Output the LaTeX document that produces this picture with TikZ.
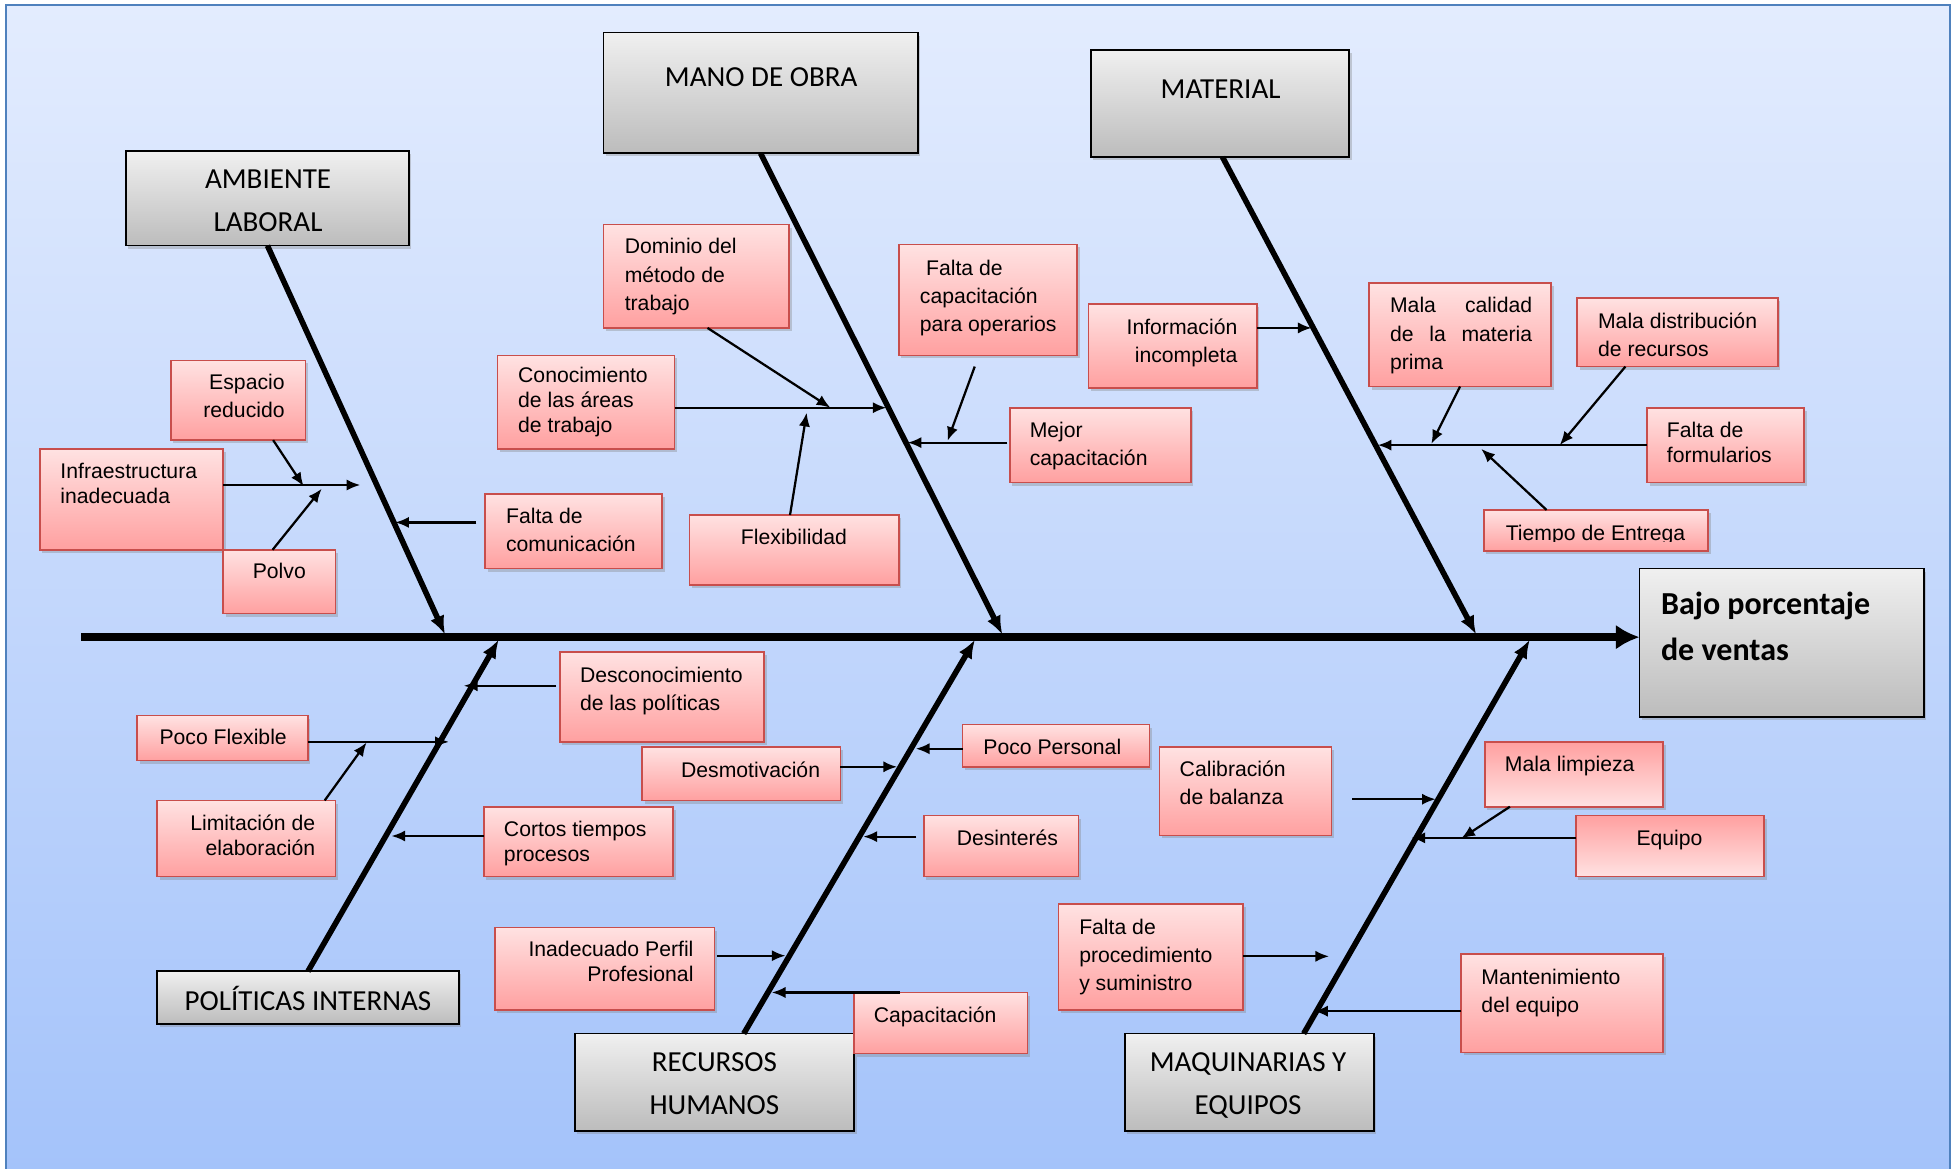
\documentclass[tikz,border=0pt]{standalone}
\usepackage{fontspec}
\setmainfont{Liberation Sans}
\newfontfamily\calib{Carlito}
\usetikzlibrary{arrows.meta,shadows,calc}
\definecolor{bgtop}{RGB}{227,236,254}
\definecolor{bgbot}{RGB}{164,195,250}
\definecolor{bgline}{RGB}{79,129,189}
\definecolor{pinktop}{RGB}{255,226,226}
\definecolor{pinkbot}{RGB}{255,160,160}
\definecolor{pinkline}{RGB}{200,78,76}
\definecolor{graytop}{RGB}{240,240,240}
\definecolor{graybot}{RGB}{188,188,188}
\newcommand\TxL[1]{\vtop{\halign{##\hfil\cr#1\crcr}}}
\newcommand\TxR[1]{\vtop{\halign{\hfil##\cr#1\crcr}}}
\newcommand\TxC[1]{\vtop{\halign{\hfil##\hfil\cr#1\crcr}}}
\newcommand\mkbox[6]{\node[#1, minimum width={(#5-#3)*1pt}, minimum height={(#6-#4)*1pt}] (#2) at (#3,#4) {};}
\tikzset{
  boxshadow/.style={drop shadow={shadow xshift=2pt, shadow yshift=-2.5pt, opacity=.35}},
  catbox/.style={draw=black, line width=1.4pt, top color=graytop, bottom color=graybot, anchor=north west, inner sep=0pt, outer sep=0pt, boxshadow},
  causebox/.style={draw=pinkline, line width=1.3pt, top color=pinktop, bottom color=pinkbot, anchor=north west, inner sep=0pt, outer sep=0pt, boxshadow},
  causeflip/.style={causebox, top color=pinkbot, bottom color=pinktop},
  ctx/.style={font=\fontsize{17}{22.5}\selectfont, inner sep=0pt},
  ctxs/.style={font=\fontsize{17}{20}\selectfont, inner sep=0pt},
  cat/.style={font=\calib\fontsize{23.3}{34}\selectfont, inner sep=0pt},
  spine/.style={line width=6pt, -{Latex[length=19pt,width=20pt]}},
  bone/.style={line width=4.5pt, -{Latex[length=15pt,width=12pt]}},
  twig/.style={line width=1.8pt, -{Latex[length=11pt,width=9pt]}}
}
\begin{document}
\begin{tikzpicture}[x=1pt,y=-1pt]
\useasboundingbox (0,0) rectangle (1568,937);
% background
\shade[top color=bgtop, bottom color=bgbot] (5,4) rectangle (1564,940);
\draw[bgline, line width=1.6pt] (5,945) -- (5,4) -- (1564,4) -- (1564,945);

% category boxes
\mkbox{catbox}{amb}{101}{121}{328}{197}
\mkbox{catbox}{mano}{484}{26}{736}{123}
\mkbox{catbox}{mat}{875}{40}{1082}{126}
\mkbox{catbox}{pol}{126}{779}{368}{821}
\mkbox{catbox}{rrhh}{461}{829}{685}{907}
\mkbox{catbox}{maq}{902}{829}{1102}{907}
\mkbox{catbox}{eff}{1315}{456}{1543}{575}

% cause boxes
\mkbox{causebox}{esp}{137}{289}{245}{353}
\mkbox{causebox}{infra}{32}{360}{179}{441}
\mkbox{causebox}{polvo}{179}{441}{269}{492}
\mkbox{causebox}{fcom}{389}{396}{531}{456}
\mkbox{causebox}{dom}{484}{180}{633}{263}
\mkbox{causebox}{cono}{399}{285}{541}{360}
\mkbox{causebox}{flex}{553}{413}{721}{469}
\mkbox{causebox}{fcap}{721}{196}{864}{285}
\mkbox{causebox}{info}{873}{244}{1008}{311}
\mkbox{causebox}{mej}{810}{327}{955}{387}
\mkbox{causebox}{mcal}{1098}{227}{1244}{310}
\mkbox{causebox}{mdis}{1265}{239}{1426}{294}
\mkbox{causebox}{form}{1321}{327}{1447}{387}
\mkbox{causebox}{tiem}{1190}{409}{1370}{442}
\mkbox{causebox}{desc}{449}{523}{613}{595}
\mkbox{causebox}{pflex}{110}{574}{247}{610}
\mkbox{causebox}{lim}{126}{642}{269}{703}
\mkbox{causebox}{cort}{388}{647}{540}{703}
\mkbox{causebox}{desm}{515}{599}{674}{642}
\mkbox{causebox}{ppers}{772}{581}{922}{615}
\mkbox{causebox}{desi}{741}{654}{865}{703}
\mkbox{causebox}{inad}{397}{744}{573}{810}
\mkbox{causebox}{capa}{685}{796}{824}{845}
\mkbox{causebox}{cali}{930}{599}{1068}{670}
\mkbox{causeflip}{mlim}{1191}{595}{1334}{647}
\mkbox{causeflip}{equi}{1264}{654}{1415}{703}
\mkbox{causebox}{fproc}{849}{725}{997}{810}
\mkbox{causebox}{mant}{1172}{765}{1334}{844}

% spine and bones
\coordinate (sp0) at (65,511);
\draw[spine] (sp0) -- (eff.west |- sp0);
\coordinate (bA) at (357,509);
\draw[bone] (amb.south) -- (bA);
\coordinate (bM) at (804,509);
\draw[bone] (mano.south) -- (bM);
\coordinate (bMt) at (1184,509);
\draw[bone] ($(mat.south)+(2,0)$) -- (bMt);
\coordinate (bP) at (400,513);
\draw[bone] (pol.north) -- (bP);
\coordinate (bR) at (782,513);
\draw[bone] ($(rrhh.north west)!0.605!(rrhh.north east)$) -- (bR);
\coordinate (bQ) at (1227,513);
\draw[bone] ($(maq.north west)!0.718!(maq.north east)$) -- (bQ);

% twigs: ambiente laboral
\coordinate (tI) at (289,389);
\draw[twig] (infra.east |- tI) -- (tI);
\coordinate (tE) at (243.5,390);
\draw[twig] ($(esp.south west)!0.76!(esp.south east)$) -- (tE);
\coordinate (tP) at (258,392);
\draw[twig] ($(polvo.north west)!0.44!(polvo.north east)$) -- (tP);
\coordinate (tF) at (317,419);
\draw[twig] ($(fcom.west |- tF)+(-7,0)$) -- (tF);
% mano de obra
\coordinate (tC) at (711,327);
\draw[twig] (cono.east |- tC) -- (tC);
\coordinate (tD) at (666,327);
\draw[twig] ($(dom.south west)!0.56!(dom.south east)$) -- (tD);
\coordinate (tFl) at (647,331);
\draw[twig] ($(flex.north west)!0.48!(flex.north east)$) -- (tFl);
\coordinate (tMe) at (728,355);
\draw[twig] ($(mej.west |- tMe)+(-2,0)$) -- (tMe);
\coordinate (tFc) at (760,353.5);
\draw[twig] ($(fcap.south west)!0.425!(fcap.south east)+(0,9)$) -- (tFc);
\coordinate (tIn) at (1052,263);
\draw[twig] (info.east |- tIn) -- (tIn);
% material
\coordinate (tFo) at (1105,357);
\draw[twig] (form.west |- tFo) -- (tFo);
\coordinate (tMc) at (1148,356);
\draw[twig] ($(mcal.south west)!0.5!(mcal.south east)$) -- (tMc);
\coordinate (tMd) at (1251,357);
\draw[twig] ($(mdis.south west)!0.24!(mdis.south east)$) -- (tMd);
\coordinate (tT) at (1188,360);
\draw[twig] ($(tiem.north west)!0.28!(tiem.north east)$) -- (tT);
% politicas
\coordinate (tDe) at (372,550);
\draw[twig] ($(desc.west |- tDe)+(-3,0)$) -- (tDe);
\coordinate (tPf) at (360,595);
\draw[twig] (pflex.east |- tPf) -- (tPf);
\coordinate (tL) at (294,595.5);
\draw[twig] ($(lim.north west)!0.94!(lim.north east)$) -- (tL);
\coordinate (tCo) at (314,670.5);
\draw[twig] (cort.west |- tCo) -- (tCo);
% recursos humanos
\coordinate (tDm) at (719.5,615);
\draw[twig] (desm.east |- tDm) -- (tDm);
\coordinate (tPp) at (734.5,600.5);
\draw[twig] (ppers.west |- tPp) -- (tPp);
\coordinate (tDi) at (692.5,671);
\draw[twig] ($(desi.west |- tDi)+(-6,0)$) -- (tDi);
\coordinate (tIa) at (630,766.5);
\draw[twig] ($(inad.east |- tIa)+(2,0)$) -- (tIa);
\coordinate (tCa) at (619,796);
\draw[twig] ($(capa.north west)+(37,0)$) -- (tCa);
% maquinarias
\coordinate (tCl) at (1151.5,641);
\draw[twig] ($(cali.east |- tCl)+(16.5,0)$) -- (tCl);
\coordinate (tEq) at (1132,672);
\draw[twig] (equi.west |- tEq) -- (tEq);
\coordinate (tMl) at (1172,672.5);
\draw[twig] ($(mlim.south west)!0.14!(mlim.south east)$) -- (tMl);
\coordinate (tFp) at (1066,767);
\draw[twig] (fproc.east |- tFp) -- (tFp);
\coordinate (tMa) at (1054,811);
\draw[twig] (mant.west |- tMa) -- (tMa);

% category texts
\node[cat, anchor=base] (t-amb) at (215,151.5) {\TxC{AMBIENTE\cr LABORAL}};
\node[cat, anchor=base] (t-mano) at (610.5,69.5) {MANO DE OBRA};
\node[cat, anchor=base] (t-mat) at (979,79) {MATERIAL};
\node[cat, anchor=base] (t-pol) at (247,810.5) {POLÍTICAS INTERNAS};
\node[cat, anchor=base] (t-rrhh) at (573,859.5) {\TxC{RECURSOS\cr HUMANOS}};
\node[cat, anchor=base] (t-maq) at (1001,859.5) {\TxC{MAQUINARIAS Y\cr EQUIPOS}};
\node[font=\calib\bfseries\fontsize{25.7}{36.5}\selectfont, inner sep=0pt, anchor=base west] (t-eff) at (1332,493) {\TxL{Bajo porcentaje\cr de ventas}};

% cause texts
\node[ctx, anchor=base east] (t-esp) at (228.5,312.7) {\TxR{Espacio\cr reducido}};
\node[ctxs, anchor=base west] (t-infra) at (48.3,383.7) {\TxL{Infraestructura\cr inadecuada}};
\node[ctx, anchor=base] (t-polvo) at (224,464.3) {Polvo};
\node[ctx, anchor=base west] (t-fcom) at (405.7,419.8) {\TxL{Falta de\cr comunicación}};
\node[ctx, anchor=base west] (t-dom) at (500.9,203.7) {\TxL{Dominio del\cr método de\cr trabajo}};
\node[ctxs, anchor=base west] (t-cono) at (415.4,307) {\TxL{Conocimiento\cr de las áreas\cr de trabajo}};
\node[ctx, anchor=base] (t-flex) at (636.8,437) {Flexibilidad};
\node[ctx, anchor=base west] (t-fcap) at (737.6,221) {\TxL{\kern5pt Falta de\cr capacitación\cr para operarios}};
\node[ctx, anchor=base east] (t-info) at (992.6,267.9) {\TxR{Información\cr incompleta}};
\node[ctx, anchor=base west] (t-mej) at (825.7,351) {\TxL{Mejor\cr capacitación}};
\node[ctx, anchor=base west] (t-mcal) at (1114.7,251) {\TxL{\hbox to 114pt{Mala\hfil calidad}\cr \hbox to 114pt{de\hfil la\hfil materia}\cr prima}};
\node[ctx, anchor=base west] (t-mdis) at (1281.5,263.6) {\TxL{Mala distribución\cr de recursos}};
\node[ctxs, anchor=base west] (t-form) at (1336.7,351) {\TxL{Falta de\cr formularios}};
\begin{scope}
\clip (tiem.north west) rectangle ($(tiem.south east)+(0,-8)$);
\node[ctx, anchor=base west] (t-tiem) at (1207.5,433.8) {Tiempo de Entrega};
\end{scope}
\node[ctx, anchor=base west] (t-desc) at (465,547) {\TxL{Desconocimiento\cr de las políticas}};
\node[ctx, anchor=base] (t-pflex) at (179,597.5) {Poco Flexible};
\node[ctxs, anchor=base east] (t-lim) at (253,666) {\TxR{Limitación de\cr elaboración}};
\node[ctxs, anchor=base west] (t-cort) at (404,671) {\TxL{Cortos tiempos\cr procesos}};
\node[ctx, anchor=base] (t-desm) at (602,623.4) {Desmotivación};
\node[ctx, anchor=base] (t-ppers) at (844,605.4) {Poco Personal};
\node[ctx, anchor=base] (t-desi) at (808,678) {Desinterés};
\node[ctxs, anchor=base east] (t-inad) at (556.4,767.5) {\TxR{Inadecuado Perfil\cr Profesional}};
\node[ctx, anchor=base] (t-capa) at (750,820) {Capacitación};
\node[ctx, anchor=base west] (t-cali) at (946,622.6) {\TxL{Calibración\cr de balanza}};
\node[ctx, anchor=base] (t-mlim) at (1259,619) {Mala limpieza};
\node[ctx, anchor=base] (t-equi) at (1339,678) {Equipo};
\node[ctx, anchor=base west] (t-fproc) at (865.4,749.3) {\TxL{Falta de\cr procedimiento\cr y suministro}};
\node[ctx, anchor=base west] (t-mant) at (1188,789.3) {\TxL{Mantenimiento\cr del equipo}};
\end{tikzpicture}
\end{document}
